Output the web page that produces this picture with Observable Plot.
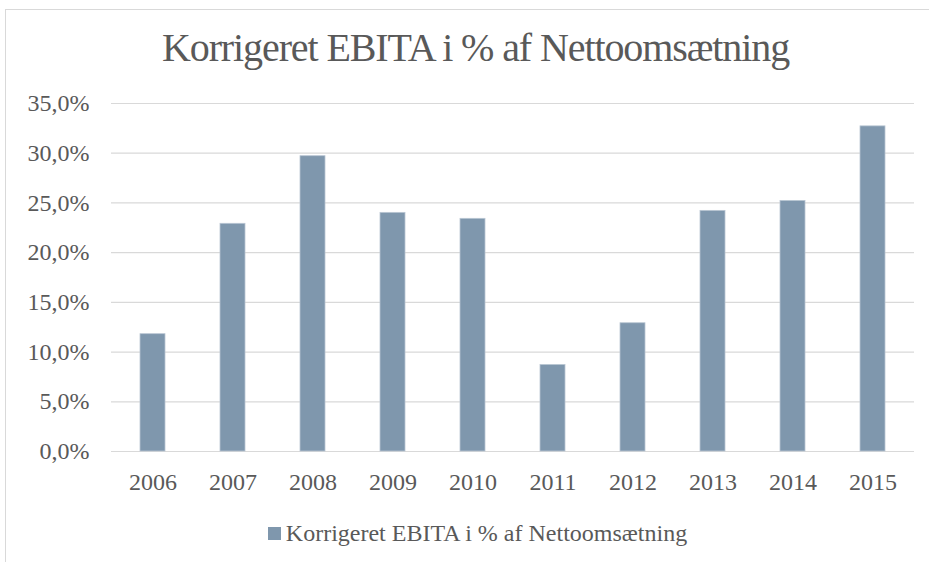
<!DOCTYPE html>
<html>
<head>
<meta charset="utf-8">
<script src="https://cdn.jsdelivr.net/npm/d3@7"></script>
<script src="https://cdn.jsdelivr.net/npm/@observablehq/plot@0.6"></script>
<style>
  html, body { margin: 0; padding: 0; background: #fff; }
  #wrap { position: relative; width: 929px; height: 562px; overflow: hidden; font-family: "Liberation Serif", "DejaVu Serif", serif; color: #595959; }
  #frame { position: absolute; left: 5px; top: 9px; width: 1000px; height: 1000px; border-left: 1px solid #d9d9d9; border-top: 1px solid #d9d9d9; pointer-events: none; }
  #title { height: 90px; box-sizing: border-box; padding-top: 25px; padding-left: 22px; text-align: center; font-size: 40px; line-height: 46px; letter-spacing: -1.1px; color: #595959; }
  #chart { height: 410px; }
  #chart svg { display: block; }
  #legend { height: 62px; display: flex; justify-content: center; align-items: flex-start; padding-left: 26px; box-sizing: border-box; padding-top: 19px; font-size: 24px; line-height: 28px; color: #595959; }
  #legend .sw { width: 13px; height: 13px; background: #7f97ad; margin-right: 5px; margin-top: 8px; }
</style>
</head>
<body>
<div id="wrap">
  <div id="frame"></div>
  <div id="title">Korrigeret EBITA i % af Nettoomsætning</div>
  <div id="chart"></div>
  <div id="legend"><div class="sw"></div><span>Korrigeret EBITA i % af Nettoomsætning</span></div>
</div>
<script>
const years = ["2006","2007","2008","2009","2010","2011","2012","2013","2014","2015"];
const values = [11.8, 22.9, 29.7, 24.0, 23.4, 8.7, 12.9, 24.2, 25.2, 32.7];
const yTicks = [0, 5, 10, 15, 20, 25, 30, 35];
const seriesName = "Korrigeret EBITA i % af Nettoomsætning";

const data = years.map((y, i) => ({year: y, value: values[i]}));
const fmt = d => d3.format(".1f")(d).replace(".", ",") + "%";

const chart = Plot.plot({
  width: 929,
  height: 410,
  marginTop: 13,
  marginBottom: 49,
  marginLeft: 111,
  marginRight: 15,
  style: {fontFamily: '"Liberation Serif", "DejaVu Serif", serif', fontSize: "24px", color: "#595959", background: "transparent"},
  x: {domain: years, paddingInner: 0.69, paddingOuter: 0.345, label: null},
  y: {domain: [0, 35], label: null},
  marks: [
    Plot.ruleY(yTicks, {stroke: "#d9d9d9", strokeWidth: 1.2}),
    Plot.barY(data, {x: "year", y: "value", fill: "#7f97ad", stroke: "#b9c6d3", strokeWidth: 0.8}),
    Plot.axisY(yTicks, {tickSize: 0, tickPadding: 22, tickFormat: fmt, fill: "#595959", fontSize: 24, label: null}),
    Plot.axisX({tickSize: 0, tickPadding: 21, fill: "#595959", fontSize: 24, label: null})
  ]
});
document.getElementById("chart").appendChild(chart);
</script>
</body>
</html>
